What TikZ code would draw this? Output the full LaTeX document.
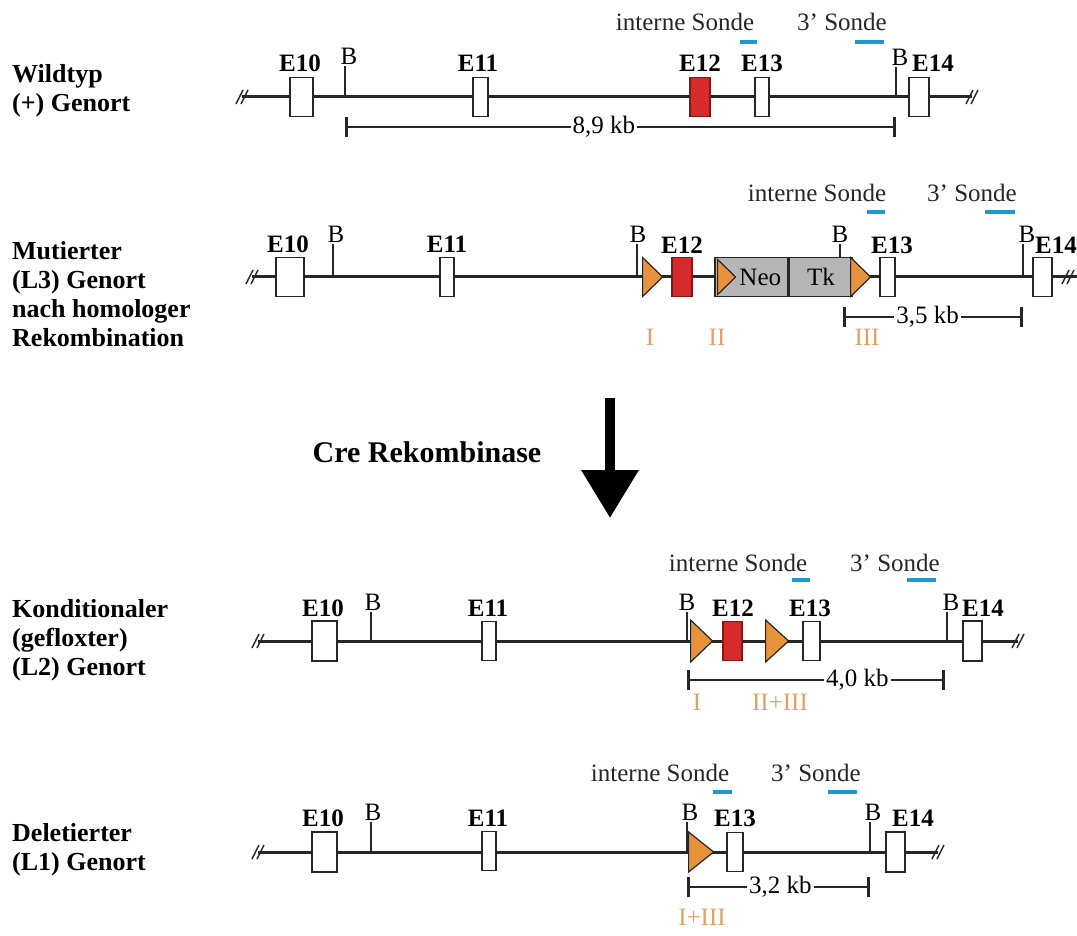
\documentclass[tikz,border=0pt]{standalone}
\usepackage{fontspec}
\setmainfont{Liberation Serif}
\usepackage{tikz}
\usetikzlibrary{arrows.meta,positioning,shapes.geometric}
\definecolor{exonred}{HTML}{D62A2C}
\definecolor{loxorange}{HTML}{E8933B}
\definecolor{loxtext}{HTML}{E2A162}
\definecolor{probeblue}{HTML}{1B9AD2}
\definecolor{linegray}{HTML}{262626}
\definecolor{neogray}{HTML}{B6B6B6}
\newcommand{\labfont}{\fontsize{25}{30}\selectfont}
\tikzset{brk/.pic={
  \draw[brkline] (-6,7) -- (1,-7);
  \draw[brkline] (-1,7) -- (6,-7);
}}

\begin{document}
\begin{tikzpicture}[
  x=1pt, y=-1pt,
  dna/.style={line width=3pt, draw=linegray},
  brkline/.style={line width=1.5pt, draw=linegray},
  exon/.style={draw=linegray, line width=1.6pt, fill=white, minimum height=39pt, inner sep=0pt},
  redexon/.style={exon, fill=exonred, draw=exonred!60!black},
  lox/.style={isosceles triangle, isosceles triangle stretches, draw=linegray, line width=1.2pt,
    fill=loxorange, minimum height=20pt, minimum width=39pt, inner sep=0pt, anchor=west},
  cassette/.style={draw=linegray, line width=1.6pt, fill=neogray, minimum height=39pt,
    inner sep=0pt, anchor=west, font=\labfont},
  exname/.style={font=\labfont\bfseries, inner sep=1pt},
  bsite/.style={font=\labfont, inner sep=1pt, anchor=south},
  tick/.style={line width=1.5pt, draw=linegray},
  kbbar/.style={line width=2.6pt, draw=linegray, {Bar[width=20pt]}-{Bar[width=20pt]}},
  kb/.style={font=\labfont, fill=white, inner sep=2pt},
  loxname/.style={font=\labfont, text=loxtext},
  probebar/.style={fill=probeblue, inner sep=0pt, minimum height=4pt},
  probename/.style={font=\labfont, text=linegray},
  rowname/.style={font=\fontsize{26}{29}\selectfont\bfseries, align=left, anchor=west, inner sep=0pt}
]
\useasboundingbox (0,0) rectangle (1077,936);

% Wildtyp
\node[rowname] (WName) at (12,91) {Wildtyp\\(+) Genort};
\coordinate (WL) at (242,97);
\coordinate (WR) at (972,97);
\draw[dna] (WL) -- (WR);
\pic at (WL) {brk};
\pic at (WR) {brk};
\coordinate (WB1) at (345,97);
\coordinate (WB2) at (896,97);
\node[bsite] (WB1l) at (349,66) {B};
\node[bsite] (WB2l) at (900,67) {B};
\draw[tick] (WB1) -- (WB1 |- WB1l.south);
\draw[tick] (WB2) -- (WB2 |- WB2l.south);
\node[exon, minimum width=23pt] (WE10) at (301.5,97) {};
\node[exon, minimum width=15pt] (WE11) at (480.5,97) {};
\node[redexon, minimum width=20pt] (WE12) at (700,97) {};
\node[exon, minimum width=14pt] (WE13) at (762,97) {};
\node[exon, minimum width=20pt] (WE14) at (919,97) {};
\node[exname] (WE10l) at (300,63) {E10};
\node[exname] (WE11l) at (478,63) {E11};
\node[exname] (WE12l) at (700,63) {E12};
\node[exname] (WE13l) at (762,63) {E13};
\node[exname] (WE14l) at (933,63) {E14};
\coordinate (W89a) at (345,127);
\coordinate (W89b) at (896,127);
\draw[kbbar] (W89a) -- node[kb, pos=0.47] (W89) {8,9 kb} (W89b);
\node[probename] (WIS) at (685,22) {interne Sonde};
\node[probename] (W3S) at (842,22) {3' Sonde};
\node[probebar, minimum width=17pt] (WIP) at (748.5,42) {};
\node[probebar, minimum width=29pt] (W3P) at (869.5,42) {};

% Mutierter (L3)
\node[rowname] (MName) at (12,294) {Mutierter\\(L3) Genort\\nach homologer\\Rekombination};
\coordinate (ML) at (252,277);
\coordinate (MR) at (1068,277);
\draw[dna] (ML) -- (MR) -- ++(15,0);
\pic at (ML) {brk};
\pic at (MR) {brk};
\coordinate (MB1) at (333,277);
\coordinate (MB2) at (637,277);
\coordinate (MB3) at (840,258);
\coordinate (MB4) at (1023,277);
\node[bsite] (MB1l) at (336,244) {B};
\node[bsite] (MB2l) at (638,244) {B};
\node[bsite] (MB3l) at (840,244) {B};
\node[bsite] (MB4l) at (1027,244) {B};
\draw[tick] (MB1) -- (MB1 |- MB1l.south);
\draw[tick] (MB2) -- (MB2 |- MB2l.south);
\draw[tick] (MB4) -- (MB4 |- MB4l.south);
\node[exon, minimum width=28pt] (ME10) at (290,277) {};
\node[exon, minimum width=14pt] (ME11) at (447,277) {};
\node[lox] (MLox1) at (642,277) {};
\node[redexon, minimum width=20pt] (ME12) at (682,277) {};
\node[cassette, minimum width=73pt] (MNeo) at (714,277) {\hspace*{18pt}Neo};
\node[cassette, minimum width=63pt] (MTk) at (MNeo.east) {Tk};
\draw[tick] (MB3) -- (MB3 |- MB3l.south);
\node[lox, minimum height=18pt, minimum width=35pt] (MLox2) at (717,277) {};
\node[lox] (MLox3) at (850,277) {};
\node[exon, minimum width=15pt] (ME13) at (887.5,277) {};
\node[exon, minimum width=19pt] (ME14) at (1042.5,277) {};
\node[exname] (ME10l) at (288,244) {E10};
\node[exname] (ME11l) at (447,244) {E11};
\node[exname] (ME12l) at (682,245) {E12};
\node[exname] (ME13l) at (892,245) {E13};
\node[exname] (ME14l) at (1056,245) {E14};
\coordinate (M35a) at (843,317);
\coordinate (M35b) at (1023,317);
\draw[kbbar] (M35a) -- node[kb, pos=0.47] (M35) {3,5 kb} (M35b);
\node[loxname] (MI) at (650,337) {I};
\node[loxname] (MII) at (717,337) {II};
\node[loxname] (MIII) at (867,337) {III};
\node[probename] (MIS) at (817,193) {interne Sonde};
\node[probename] (M3S) at (972,193) {3' Sonde};
\node[probebar, minimum width=18pt] (MIP) at (876,212) {};
\node[probebar, minimum width=30pt] (M3P) at (1000,212) {};

% Cre
\coordinate (ArrTop) at (610,398);
\coordinate (ArrTip) at (610,518);
\draw[line width=10pt, black, -{Triangle[width=55pt,length=48pt]}] (ArrTop) -- (ArrTip);
\node[font=\fontsize{30}{33}\selectfont\bfseries] (Cre) at (427,452) {Cre Rekombinase};

% Konditionaler (L2)
\node[rowname] (KName) at (12,640) {Konditionaler\\(gefloxter)\\(L2) Genort};
\coordinate (KL) at (258,641);
\coordinate (KR) at (1018,641);
\draw[dna] (KL) -- (KR);
\pic at (KL) {brk};
\pic at (KR) {brk};
\coordinate (KB1) at (371,641);
\coordinate (KB2) at (687,641);
\coordinate (KB3) at (947,641);
\node[bsite] (KB1l) at (373,612) {B};
\node[bsite] (KB2l) at (687,612) {B};
\node[bsite] (KB3l) at (951,612) {B};
\draw[tick] (KB1) -- (KB1 |- KB1l.south);
\draw[tick] (KB2) -- (KB2 |- KB2l.south);
\draw[tick] (KB3) -- (KB3 |- KB3l.south);
\node[exon, minimum width=25pt, minimum height=40pt] (KE10) at (324.5,641) {};
\node[exon, minimum width=14pt] (KE11) at (489,641) {};
\node[lox, minimum height=22pt, minimum width=42pt] (KLox1) at (690,641) {};
\node[redexon, minimum width=19pt] (KE12) at (732.5,641) {};
\node[lox, minimum height=23pt, minimum width=42pt] (KLox2) at (765,641) {};
\node[exon, minimum width=17pt] (KE13) at (811.5,641) {};
\node[exon, minimum width=19pt, minimum height=40pt] (KE14) at (972.5,641) {};
\node[exname] (KE10l) at (323,608) {E10};
\node[exname] (KE11l) at (488,608) {E11};
\node[exname] (KE12l) at (733,608) {E12};
\node[exname] (KE13l) at (810,608) {E13};
\node[exname] (KE14l) at (983,608) {E14};
\coordinate (K40a) at (687,680);
\coordinate (K40b) at (945,680);
\draw[kbbar] (K40a) -- node[kb, pos=0.66] (K40) {4,0 kb} (K40b);
\node[loxname] (KI) at (697,702) {I};
\node[loxname] (KIII) at (780,702) {II+III};
\node[probename] (KIS) at (738,563) {interne Sonde};
\node[probename] (K3S) at (895,563) {3' Sonde};
\node[probebar, minimum width=18pt] (KIP) at (801,580) {};
\node[probebar, minimum width=29pt] (K3P) at (921.5,580) {};

% Deletierter (L1)
\node[rowname] (DName) at (12,850) {Deletierter\\(L1) Genort};
\coordinate (DL) at (258,852);
\coordinate (DR) at (938,852);
\draw[dna] (DL) -- (DR);
\pic at (DL) {brk};
\pic at (DR) {brk};
\coordinate (DB1) at (371,852);
\coordinate (DB2) at (687,852);
\coordinate (DB3) at (870,852);
\node[bsite] (DB1l) at (373,822) {B};
\node[bsite] (DB2l) at (690,822) {B};
\node[bsite] (DB3l) at (873,822) {B};
\draw[tick] (DB1) -- (DB1 |- DB1l.south);
\draw[tick] (DB2) -- (DB2 |- DB2l.south);
\draw[tick] (DB3) -- (DB3 |- DB3l.south);
\node[exon, minimum width=25pt, minimum height=40pt] (DE10) at (324.5,852) {};
\node[exon, minimum width=14pt] (DE11) at (489,851) {};
\node[lox, minimum height=25pt, minimum width=40pt] (DLox) at (688,852) {};
\node[exon, minimum width=16pt] (DE13) at (735,852) {};
\node[exon, minimum width=19pt, minimum height=40pt] (DE14) at (895.5,852) {};
\node[exname] (DE10l) at (323,818) {E10};
\node[exname] (DE11l) at (488,818) {E11};
\node[exname] (DE13l) at (735,818) {E13};
\node[exname] (DE14l) at (913,818) {E14};
\coordinate (D32a) at (687,887);
\coordinate (D32b) at (870,887);
\draw[kbbar] (D32a) -- node[kb, pos=0.51] (D32) {3,2 kb} (D32b);
\node[loxname] (DI) at (702,917) {I+III};
\node[probename] (DIS) at (660,773) {interne Sonde};
\node[probename] (D3S) at (816,773) {3' Sonde};
\node[probebar, minimum width=19pt] (DIP) at (722.5,792) {};
\node[probebar, minimum width=29pt] (D3P) at (842.5,792) {};
\end{tikzpicture}
\end{document}
